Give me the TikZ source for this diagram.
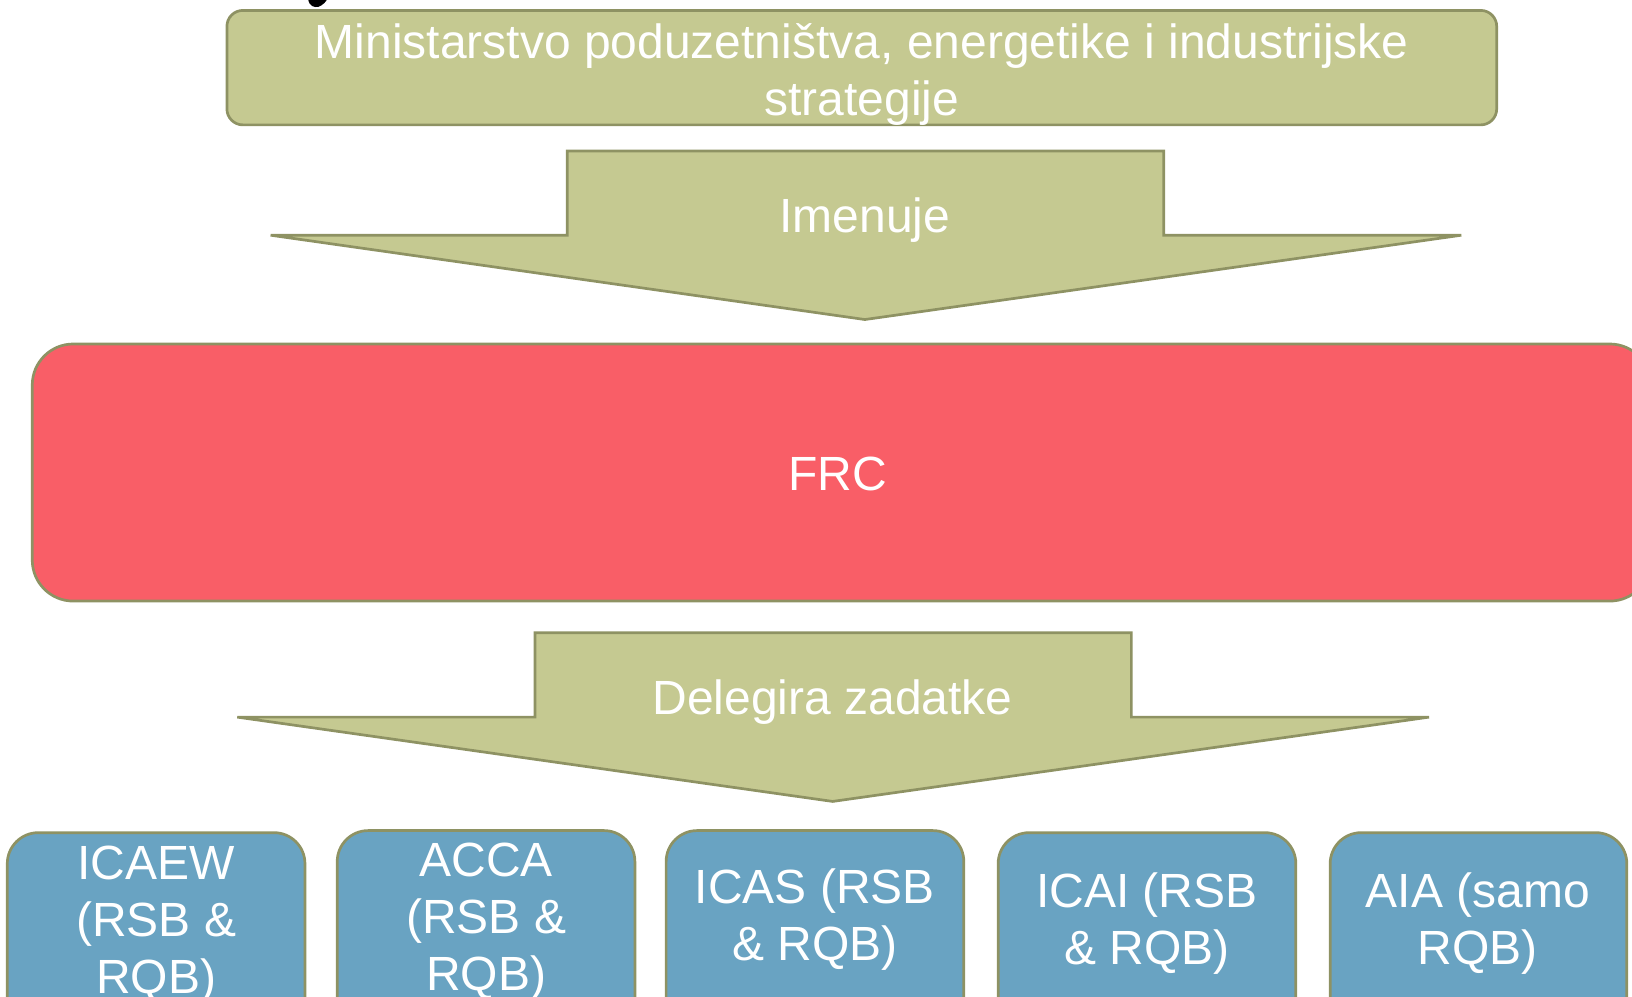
\documentclass[tikz,border=0pt]{standalone}
\usepackage{fontspec}
\setmainfont{Liberation Sans}
\usetikzlibrary{fit}
\definecolor{oliveFill}{HTML}{C5C991}
\definecolor{oliveLine}{HTML}{8E9263}
\definecolor{frcRed}{HTML}{F95E67}
\definecolor{instBlue}{HTML}{69A3C2}
\tikzset{
  txt/.style={text=white, font=\fontsize{48pt}{57pt}\selectfont, align=center, inner sep=0pt},
  outl/.style={draw=oliveLine, line width=2.7pt},
  minbox/.style={outl, fill=oliveFill, rounded corners=16pt, inner sep=0pt},
  frcbox/.style={outl, fill=frcRed, rounded corners=41pt, inner sep=0pt},
  instbox/.style={outl, fill=instBlue, rounded corners=31pt, inner sep=0pt},
  blockarrow/.style={outl, fill=oliveFill, line join=miter},
}
\begin{document}
\begin{tikzpicture}[x=1.040816pt, y=-1.040816pt]
\useasboundingbox (0,0) rectangle (1568,957.9);
\clip (0,0) rectangle (1568,957.9);
% fragment of a cut-off glyph at the top edge
\fill[black] (296,-1) .. controls (297,6) and (302,7.5) .. (306,6.5) .. controls (310,5) and (313,2) .. (314.5,-1) -- cycle;
% ministry box
\node[minbox, fit={(218,10) (1438,120)}] (min) {};
\node[txt, anchor=base] (mintxt) at (828,111.3) {Ministarstvo poduzetništva, energetike i industrijske\\strategije};
% arrow 1
\draw[blockarrow] (545,145) -- (1118,145) -- (1118,226) -- (1404,226) -- (831,307) -- (260,226) -- (545,226) -- cycle;
\node[txt, anchor=base] (imenuje) at (831,223.5) {Imenuje};
% FRC
\node[frcbox, fit={(31,330.5) (1586,577.5)}] (frc) {};
\node[txt, anchor=base] (frctxt) at (805,471.5) {FRC};
% arrow 2
\draw[blockarrow] (514,608) -- (1087,608) -- (1087,689) -- (1373,689) -- (800,770) -- (228,689) -- (514,689) -- cycle;
\node[txt, anchor=base] (deleg) at (800,686.5) {Delegira zadatke};
% institutes
\node[instbox, fit={(7,800) (293,1010)}] (icaew) {};
\node[instbox, fit={(324,798) (610,1010)}] (acca) {};
\node[instbox, fit={(640,798) (926,1010)}] (icas) {};
\node[instbox, fit={(959,800) (1245,1010)}] (icai) {};
\node[instbox, fit={(1278,800) (1563,1010)}] (aia) {};
\node[txt, anchor=base] (icaewtxt) at (150,954.1) {ICAEW\\(RSB \&\\RQB)};
\node[txt, anchor=base] (accatxt) at (467,952.1) {ACCA\\(RSB \&\\RQB)};
\node[txt, anchor=base] (icastxt) at (783,923.3) {ICAS (RSB\\\& RQB)};
\node[txt, anchor=base] (icaitxt) at (1102,926.3) {ICAI (RSB\\\& RQB)};
\node[txt, anchor=base] (aiatxt) at (1420,926.3) {AIA (samo\\RQB)};
\end{tikzpicture}
\end{document}
